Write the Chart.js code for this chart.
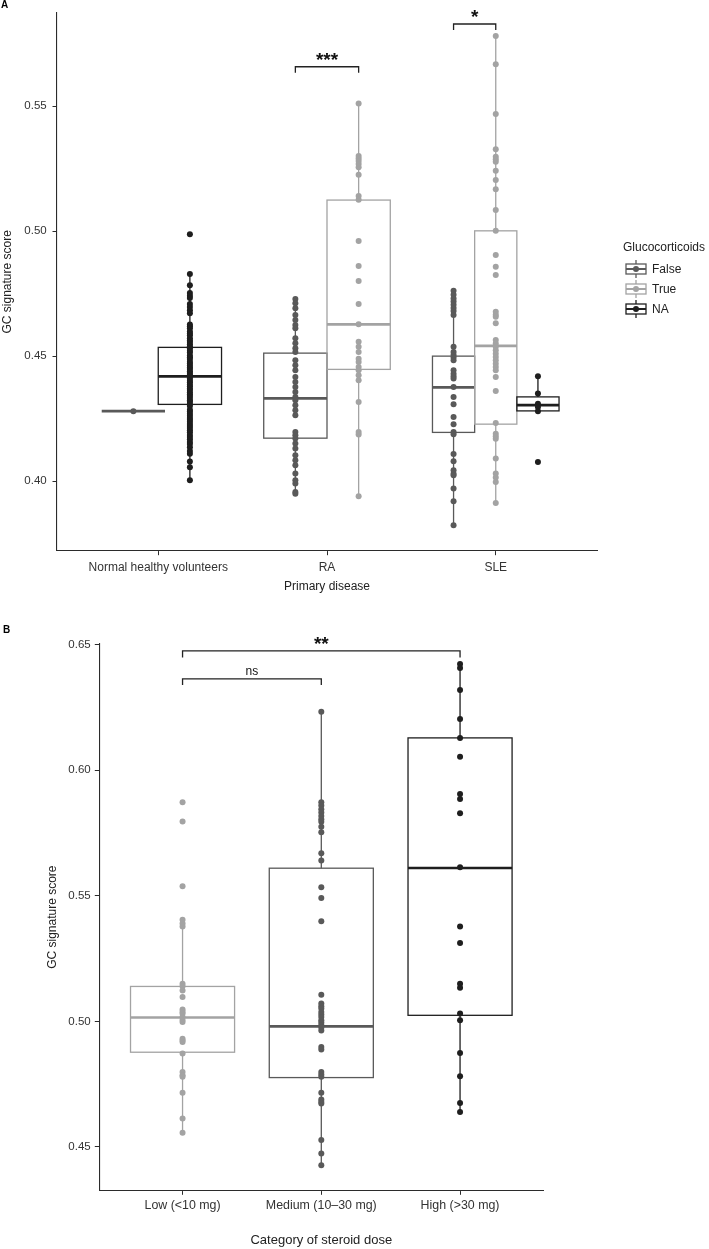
<!DOCTYPE html>
<html><head><meta charset="utf-8">
<script src="https://cdn.jsdelivr.net/npm/chart.js@4.4.0/dist/chart.umd.min.js"></script>
<style>
html,body{margin:0;padding:0;background:#fff;}
#wrapA{position:absolute;left:0;top:0;width:709px;height:610px;}
#wrapB{position:absolute;left:0;top:610px;width:709px;height:639px;}
</style></head><body>
<div id="wrapA"><canvas id="chartA" width="709" height="610"></canvas></div>
<div id="wrapB"><canvas id="chartB" width="709" height="639"></canvas></div>
<script>
// ---------- Panel A data ----------
const diseaseCategories = ['Normal healthy volunteers', 'RA', 'SLE'];
const gcGroups = ['False', 'True', 'NA'];
const yTicksA = [0.40, 0.45, 0.50, 0.55];

const nhvFalse = [0.428];
const nhvNA = [0.4987, 0.4828, 0.4783, 0.4752, 0.4741, 0.4732, 0.4708, 0.4696, 0.4683, 0.4671, 0.4626, 0.4619, 0.4611, 0.4598, 0.4590, 0.4583, 0.4571, 0.4562, 0.4556, 0.4547, 0.4539, 0.4531, 0.4522, 0.4515, 0.4503, 0.4496, 0.4489, 0.4478, 0.4471, 0.4463, 0.4455, 0.4449, 0.4440, 0.4433, 0.4426, 0.4419, 0.4411, 0.4402, 0.4396, 0.4387, 0.4380, 0.4371, 0.4365, 0.4356, 0.4348, 0.4341, 0.4333, 0.4324, 0.4318, 0.4309, 0.4301, 0.4286, 0.4279, 0.4270, 0.4262, 0.4253, 0.4246, 0.4238, 0.4229, 0.4221, 0.4213, 0.4204, 0.4196, 0.4185, 0.4177, 0.4168, 0.4157, 0.4149, 0.4136, 0.4121, 0.4110, 0.4079, 0.4056, 0.4004];
const raFalse = [0.4728, 0.4711, 0.4691, 0.4664, 0.4644, 0.4624, 0.4611, 0.4571, 0.4551, 0.4531, 0.4517, 0.4484, 0.4464, 0.4444, 0.4417, 0.4397, 0.4377, 0.4357, 0.4337, 0.4324, 0.4304, 0.4284, 0.4264, 0.4197, 0.4184, 0.4171, 0.4151, 0.4131, 0.4104, 0.4084, 0.4064, 0.4031, 0.4004, 0.3991, 0.3957, 0.3950];
const raTrue = [0.5510, 0.5300, 0.5290, 0.5280, 0.5268, 0.5255, 0.5225, 0.5140, 0.5125, 0.4960, 0.4860, 0.4800, 0.4708, 0.4627, 0.4557, 0.4537, 0.4517, 0.4490, 0.4477, 0.4457, 0.4444, 0.4424, 0.4404, 0.4317, 0.4197, 0.4187, 0.3940];
const sleFalse = [0.4761, 0.4745, 0.4730, 0.4718, 0.4705, 0.4692, 0.4680, 0.4664, 0.4537, 0.4517, 0.4505, 0.4495, 0.4484, 0.4444, 0.4430, 0.4420, 0.4411, 0.4377, 0.4337, 0.4308, 0.4257, 0.4228, 0.4197, 0.4188, 0.4109, 0.4080, 0.4044, 0.4030, 0.4024, 0.3971, 0.3920, 0.3824];
const sleTrue = [0.5780, 0.5667, 0.5468, 0.5327, 0.5297, 0.5287, 0.5277, 0.5241, 0.5204, 0.5167, 0.5084, 0.5001, 0.4904, 0.4857, 0.4824, 0.4677, 0.4665, 0.4657, 0.4631, 0.4564, 0.4550, 0.4537, 0.4524, 0.4510, 0.4497, 0.4484, 0.4470, 0.4457, 0.4444, 0.4417, 0.4361, 0.4233, 0.4190, 0.4180, 0.4170, 0.4091, 0.4031, 0.4015, 0.3997, 0.3913];
const sleNA = [0.4420, 0.4351, 0.4310, 0.4297, 0.4280, 0.4077];

// box stats: [lower whisker, Q1, median, Q3, upper whisker]
const nhvFalseBox = [0.428, 0.428, 0.428, 0.428, 0.428];
const nhvNABox = [0.4004, 0.4307, 0.4419, 0.4535, 0.4828];
const raFalseBox = [0.3950, 0.4172, 0.4331, 0.4512, 0.4728];
const raTrueBox = [0.3940, 0.4447, 0.4627, 0.5124, 0.5510];
const sleFalseBox = [0.3824, 0.4195, 0.4375, 0.4500, 0.4761];
const sleTrueBox = [0.3913, 0.4228, 0.4541, 0.5001, 0.5780];
const sleNABox = [0.4280, 0.4281, 0.4304, 0.4337, 0.4420];

// ---------- Panel B data ----------
const doseCategories = ['Low (<10 mg)', 'Medium (10\u201330 mg)', 'High (>30 mg)'];
const yTicksB = [0.45, 0.50, 0.55, 0.60, 0.65];
const doseLow = [0.5873, 0.5796, 0.5538, 0.5405, 0.5390, 0.5378, 0.5150, 0.5140, 0.5123, 0.5097, 0.5047, 0.5038, 0.5031, 0.5017, 0.5005, 0.4997, 0.4931, 0.4924, 0.4918, 0.4872, 0.4798, 0.4785, 0.4779, 0.4716, 0.4613, 0.4556];
const doseMedium = [0.6233, 0.5873, 0.5860, 0.5845, 0.5832, 0.5818, 0.5805, 0.5795, 0.5775, 0.5753, 0.5670, 0.5641, 0.5534, 0.5491, 0.5399, 0.5106, 0.5071, 0.5060, 0.5051, 0.5037, 0.5027, 0.5017, 0.5004, 0.4995, 0.4985, 0.4975, 0.4964, 0.4898, 0.4888, 0.4798, 0.4788, 0.4779, 0.4716, 0.4689, 0.4680, 0.4673, 0.4527, 0.4474, 0.4427];
const doseHigh = [0.6423, 0.6407, 0.6320, 0.6204, 0.6129, 0.6054, 0.5906, 0.5886, 0.5829, 0.5614, 0.5378, 0.5312, 0.5150, 0.5134, 0.5031, 0.5004, 0.4874, 0.4781, 0.4675, 0.4639];
const doseLowBox = [0.4556, 0.4877, 0.5015, 0.5139, 0.5405];
const doseMediumBox = [0.4427, 0.4776, 0.4980, 0.5610, 0.6233];
const doseHighBox = [0.4639, 0.5024, 0.5611, 0.6129, 0.6423];

// ---------- styling ----------
const FONT = '"Liberation Sans", Arial, Helvetica, sans-serif';
const COL = {False: '#595959', True: '#a3a3a3', NA: '#1e1e1e'};
const AXIS = '#2b2b2b';
Chart.defaults.font.family = FONT;

function boxPlugin(id, boxes) {
  return {
    id,
    beforeDatasetsDraw(chart) {
      const {ctx, scales: {x, y}} = chart;
      ctx.save();
      boxes.forEach(b => {
        const [lo, q1, med, q3, hi] = b.stats;
        const xl = x.getPixelForValue(b.center - b.width / 2);
        const xr = x.getPixelForValue(b.center + b.width / 2);
        const xc = x.getPixelForValue(b.center);
        ctx.strokeStyle = b.color;
        ctx.lineWidth = 1.3;
        ctx.beginPath();
        ctx.moveTo(xc, y.getPixelForValue(hi)); ctx.lineTo(xc, y.getPixelForValue(q3));
        ctx.moveTo(xc, y.getPixelForValue(q1)); ctx.lineTo(xc, y.getPixelForValue(lo));
        ctx.stroke();
        const yt = y.getPixelForValue(q3), yb = y.getPixelForValue(q1);
        if (yb - yt > 0.5) ctx.strokeRect(xl, yt, xr - xl, yb - yt);
        const ym = y.getPixelForValue(med);
        ctx.lineWidth = 2.6;
        ctx.beginPath(); ctx.moveTo(xl, ym); ctx.lineTo(xr, ym); ctx.stroke();
      });
      ctx.restore();
    }
  };
}

function annotPlugin(id, brackets, panelLabel, legend) {
  return {
    id,
    afterDraw(chart) {
      const {ctx, scales: {x, y}} = chart;
      ctx.save();
      ctx.strokeStyle = '#222';
      ctx.fillStyle = '#111';
      ctx.lineWidth = 1.3;
      brackets.forEach(b => {
        const x1 = x.getPixelForValue(b.x1), x2 = x.getPixelForValue(b.x2);
        const yl = y.getPixelForValue(b.y), yt = y.getPixelForValue(b.tick);
        ctx.beginPath();
        ctx.moveTo(x1, yt); ctx.lineTo(x1, yl); ctx.lineTo(x2, yl); ctx.lineTo(x2, yt);
        ctx.stroke();
        ctx.font = b.font;
        ctx.textAlign = 'center';
        ctx.textBaseline = 'alphabetic';
        ctx.fillText(b.label, (x1 + x2) / 2, yl - b.gap);
      });
      ctx.font = 'bold 10px ' + FONT;
      ctx.textAlign = 'left';
      ctx.textBaseline = 'middle';
      ctx.fillStyle = '#000';
      ctx.fillText(panelLabel.text, panelLabel.x, panelLabel.y);
      if (legend) {
        ctx.font = '12px ' + FONT;
        ctx.fillStyle = '#222';
        ctx.textBaseline = 'middle';
        ctx.fillText(legend.title, legend.x, legend.titleY);
        legend.items.forEach((it, i) => {
          const cy = legend.firstY + i * legend.step;
          const gx = legend.x + 3, gw = 20, cx = gx + gw / 2;
          ctx.strokeStyle = it.color;
          ctx.lineWidth = 1.3;
          ctx.beginPath();
          ctx.moveTo(cx, cy - 9); ctx.lineTo(cx, cy - 5);
          ctx.moveTo(cx, cy + 5); ctx.lineTo(cx, cy + 9);
          ctx.stroke();
          ctx.strokeRect(gx, cy - 5, gw, 10);
          ctx.lineWidth = 2;
          ctx.beginPath(); ctx.moveTo(gx, cy); ctx.lineTo(gx + gw, cy); ctx.stroke();
          ctx.fillStyle = it.color;
          ctx.beginPath(); ctx.arc(cx, cy, 3, 0, Math.PI * 2); ctx.fill();
          ctx.fillStyle = '#222';
          ctx.fillText(it.label, legend.x + 29, cy + 0.5);
        });
      }
      ctx.restore();
    }
  };
}

function ptsDataset(values, xc, color) {
  return {
    data: values.map(v => ({x: xc, y: v})),
    backgroundColor: color, borderColor: color, borderWidth: 0,
    pointRadius: 3, pointHoverRadius: 3
  };
}

function axisCommon() {
  return {
    grid: {drawOnChartArea: false, drawTicks: true, tickLength: 4.5, color: AXIS, lineWidth: 1},
    border: {display: true, color: AXIS, width: 1.1}
  };
}

// ---------- Panel A ----------
const posA = {
  nhvFalse: 0.8525, nhvNA: 1.1875,
  raFalse: 1.8125, raTrue: 2.1875,
  sleFalse: 2.75, sleTrue: 3.0, sleNA: 3.25
};
const wide = 0.375, narrow = 0.25;
const boxesA = [
  {center: posA.nhvFalse, width: wide, stats: nhvFalseBox, color: COL.False},
  {center: posA.nhvNA, width: wide, stats: nhvNABox, color: COL.NA},
  {center: posA.raFalse, width: wide, stats: raFalseBox, color: COL.False},
  {center: posA.raTrue, width: wide, stats: raTrueBox, color: COL.True},
  {center: posA.sleFalse, width: narrow, stats: sleFalseBox, color: COL.False},
  {center: posA.sleTrue, width: narrow, stats: sleTrueBox, color: COL.True},
  {center: posA.sleNA, width: narrow, stats: sleNABox, color: COL.NA}
];
const datasetsA = [
  ptsDataset(nhvFalse, posA.nhvFalse, COL.False),
  ptsDataset(nhvNA, posA.nhvNA, COL.NA),
  ptsDataset(raFalse, posA.raFalse, COL.False),
  ptsDataset(raTrue, posA.raTrue, COL.True),
  ptsDataset(sleFalse, posA.sleFalse, COL.False),
  ptsDataset(sleTrue, posA.sleTrue, COL.True),
  ptsDataset(sleNA, posA.sleNA, COL.NA)
];
const bracketsA = [
  {x1: posA.raFalse, x2: posA.raTrue, y: 0.5657, tick: 0.5633, label: '***', font: 'bold 19px ' + FONT, gap: 1},
  {x1: posA.sleFalse, x2: posA.sleTrue, y: 0.5828, tick: 0.5804, label: '*', font: 'bold 19px ' + FONT, gap: 1}
];
const legendA = {
  title: 'Glucocorticoids', x: 623, titleY: 248, firstY: 269, step: 20,
  items: gcGroups.map(g => ({label: g, color: COL[g]}))
};

new Chart(document.getElementById('chartA'), {
  type: 'scatter',
  data: {datasets: datasetsA},
  options: {
    responsive: false, animation: false, devicePixelRatio: 1,
    layout: {padding: {left: 0, top: 13, right: 112, bottom: 0}},
    plugins: {legend: {display: false}, tooltip: {enabled: false}},
    scales: {
      x: Object.assign(axisCommon(), {
        type: 'linear', min: 0.4, max: 3.6,
        afterBuildTicks(s) { s.ticks = diseaseCategories.map((c, i) => ({value: i + 1})); },
        afterFit(s) { s.height = 59.3; },
        ticks: {callback: v => diseaseCategories[Math.round(v) - 1], font: {size: 12}, color: '#333', padding: 4.8, maxRotation: 0, autoSkip: false},
        title: {display: true, text: 'Primary disease', font: {size: 12}, color: '#222', padding: {top: 0, bottom: 15.8}}
      }),
      y: Object.assign(axisCommon(), {
        type: 'linear', min: 0.3722, max: 0.5872,
        afterBuildTicks(s) { s.ticks = yTicksA.map(v => ({value: v})); },
        afterFit(s) { s.width = 57; },
        ticks: {callback: v => v.toFixed(2), font: {size: 11.5}, color: '#333', padding: 5.8},
        title: {display: true, text: 'GC signature score', font: {size: 12}, color: '#222', padding: {top: 0, bottom: 0}}
      })
    }
  },
  plugins: [boxPlugin('boxA', boxesA), annotPlugin('annA', bracketsA, {text: 'A', x: 1, y: 5}, legendA)]
});

// ---------- Panel B ----------
const posB = {low: 1, medium: 2, high: 3};
const boxW = 0.75;
const boxesB = [
  {center: posB.low, width: boxW, stats: doseLowBox, color: COL.True},
  {center: posB.medium, width: boxW, stats: doseMediumBox, color: COL.False},
  {center: posB.high, width: boxW, stats: doseHighBox, color: COL.NA}
];
const datasetsB = [
  ptsDataset(doseLow, posB.low, COL.True),
  ptsDataset(doseMedium, posB.medium, COL.False),
  ptsDataset(doseHigh, posB.high, COL.NA)
];
const bracketsB = [
  {x1: posB.low, x2: posB.high, y: 0.6476, tick: 0.6449, label: '**', font: 'bold 19px ' + FONT, gap: 1},
  {x1: posB.low, x2: posB.medium, y: 0.6364, tick: 0.6340, label: 'ns', font: '12px ' + FONT, gap: 3.5}
];

new Chart(document.getElementById('chartB'), {
  type: 'scatter',
  data: {datasets: datasetsB},
  options: {
    responsive: false, animation: false, devicePixelRatio: 1,
    layout: {padding: {left: 45, top: 34, right: 165.7, bottom: 0}},
    plugins: {legend: {display: false}, tooltip: {enabled: false}},
    scales: {
      x: Object.assign(axisCommon(), {
        type: 'linear', min: 0.4, max: 3.6,
        afterBuildTicks(s) { s.ticks = doseCategories.map((c, i) => ({value: i + 1})); },
        afterFit(s) { s.height = 58.7; },
        ticks: {callback: v => doseCategories[Math.round(v) - 1], font: {size: 12.4}, color: '#333', padding: 3.3, maxRotation: 0, autoSkip: false},
        title: {display: true, text: 'Category of steroid dose', font: {size: 13}, color: '#222', padding: {top: 0, bottom: 1.2}}
      }),
      y: Object.assign(axisCommon(), {
        type: 'linear', min: 0.4327, max: 0.6503,
        afterBuildTicks(s) { s.ticks = yTicksB.map(v => ({value: v})); },
        afterFit(s) { s.width = 54.3; },
        ticks: {callback: v => v.toFixed(2), font: {size: 11.5}, color: '#333', padding: 4.1},
        title: {display: true, text: 'GC signature score', font: {size: 12}, color: '#222', padding: {top: 0, bottom: 0}}
      })
    }
  },
  plugins: [boxPlugin('boxB', boxesB), annotPlugin('annB', bracketsB, {text: 'B', x: 3, y: 20}, null)]
});
</script>
</body></html>
